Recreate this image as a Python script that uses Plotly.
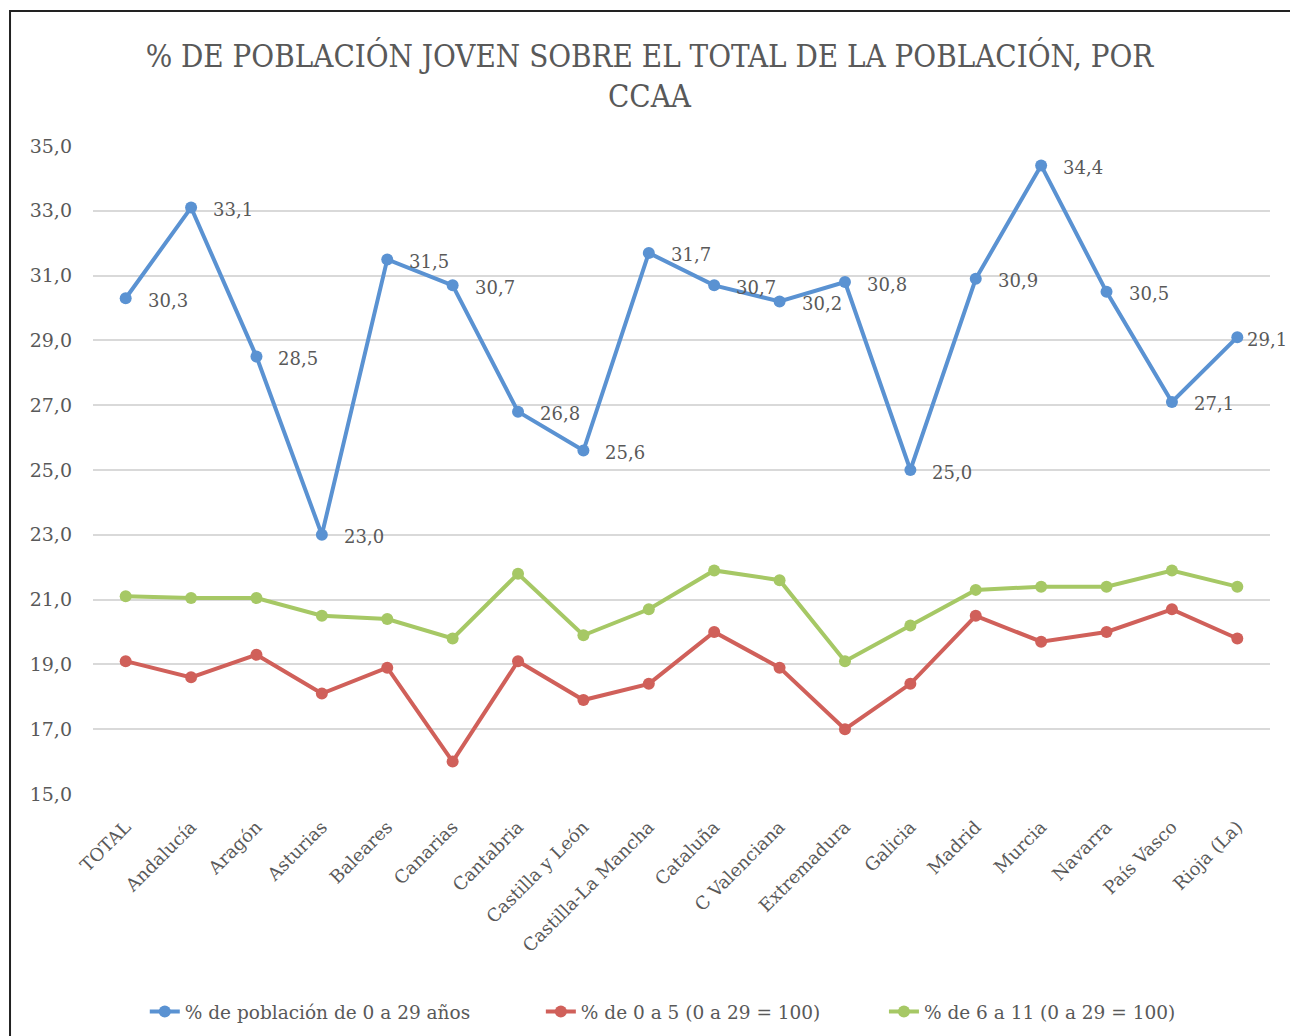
import plotly.graph_objects as go

categories = ["TOTAL", "Andalucía", "Aragón", "Asturias", "Baleares", "Canarias",
              "Cantabria", "Castilla y León", "Castilla-La Mancha", "Cataluña",
              "C Valenciana", "Extremadura", "Galicia", "Madrid", "Murcia",
              "Navarra", "País Vasco", "Rioja (La)"]

pob_0_29 = [30.3, 33.1, 28.5, 23.0, 31.5, 30.7, 26.8, 25.6, 31.7, 30.7,
            30.2, 30.8, 25.0, 30.9, 34.4, 30.5, 27.1, 29.1]
de_0_5 = [19.1, 18.6, 19.3, 18.1, 18.9, 16.0, 19.1, 17.9, 18.4, 20.0,
          18.9, 17.0, 18.4, 20.5, 19.7, 20.0, 20.7, 19.8]
de_6_11 = [21.1, 21.05, 21.05, 20.5, 20.4, 19.8, 21.8, 19.9, 20.7, 21.9,
           21.6, 19.1, 20.2, 21.3, 21.4, 21.4, 21.9, 21.4]

names = ["% de población de 0 a 29 años", "% de 0 a 5 (0 a 29 = 100)",
         "% de 6 a 11 (0 a 29 = 100)"]
colors = ["#5A92D2", "#D0605A", "#A6C865"]
legend_ids = ["legend", "legend2", "legend3"]
legend_x = [0.044, 0.3805, 0.672]

FONT = "DejaVu Serif"
TITLE_FONT = "DejaVu Serif Condensed, DejaVu Serif"
GREY = "#595959"

fig = go.Figure()
for vals, name, col, lg in zip([pob_0_29, de_0_5, de_6_11], names, colors, legend_ids):
    fig.add_trace(go.Scatter(
        x=categories, y=vals, name=name, mode="lines+markers",
        line=dict(color=col, width=4),
        marker=dict(color=col, size=12),
        legend=lg,
    ))

for i, (c, v) in enumerate(zip(categories, pob_0_29)):
    fig.add_annotation(
        x=c, y=v, text=f"{v:.1f}".replace(".", ","), showarrow=False,
        xanchor="left", yanchor="middle",
        xshift=8 if i == len(categories) - 1 else 20, yshift=-2,
        font=dict(family=FONT, size=18, color=GREY),
    )

# outer chart frame
fig.add_shape(type="rect", xref="paper", yref="paper",
              x0=-0.0705, x1=1.05, y0=-0.6, y1=1.2083,
              line=dict(color="#222222", width=2), fillcolor="rgba(0,0,0,0)",
              layer="below")

legend_common = dict(
    orientation="h", xanchor="left", yref="container", y=0.0232, yanchor="middle",
    font=dict(family=FONT, size=18.5, color=GREY), bgcolor="rgba(0,0,0,0)",
)

fig.update_layout(
    width=1290, height=1036,
    paper_bgcolor="white", plot_bgcolor="white",
    separators=",.",
    margin=dict(l=93, r=20, t=146, b=242, autoexpand=False),
    title=dict(
        text="% DE POBLACIÓN JOVEN SOBRE EL TOTAL DE LA POBLACIÓN, POR<br>CCAA",
        x=0.5035, xanchor="center", y=0.9355, yanchor="middle",
        font=dict(family=TITLE_FONT, size=31, color=GREY),
    ),
    xaxis=dict(
        type="category", tickangle=-45, showgrid=False, zeroline=False,
        showline=False, ticks="", automargin=False,
        tickfont=dict(family=FONT, size=18, color=GREY),
        range=[-0.5, len(categories) - 0.5],
        ticklabelstandoff=18,
    ),
    yaxis=dict(
        range=[15, 35], dtick=2, tick0=15, tickformat=".1f",
        showgrid=True, gridcolor="#D9D9D9", gridwidth=1.5,
        zeroline=False, showline=False, ticks="", automargin=False,
        tickfont=dict(family=FONT, size=19, color=GREY),
        ticklabelstandoff=20,
    ),
    legend=dict(x=legend_x[0], **legend_common),
    legend2=dict(x=legend_x[1], **legend_common),
    legend3=dict(x=legend_x[2], **legend_common),
    showlegend=True,
)

fig.write_html("out.html", config={"displayModeBar": False},
               post_script="document.body.style.margin='0px';")
